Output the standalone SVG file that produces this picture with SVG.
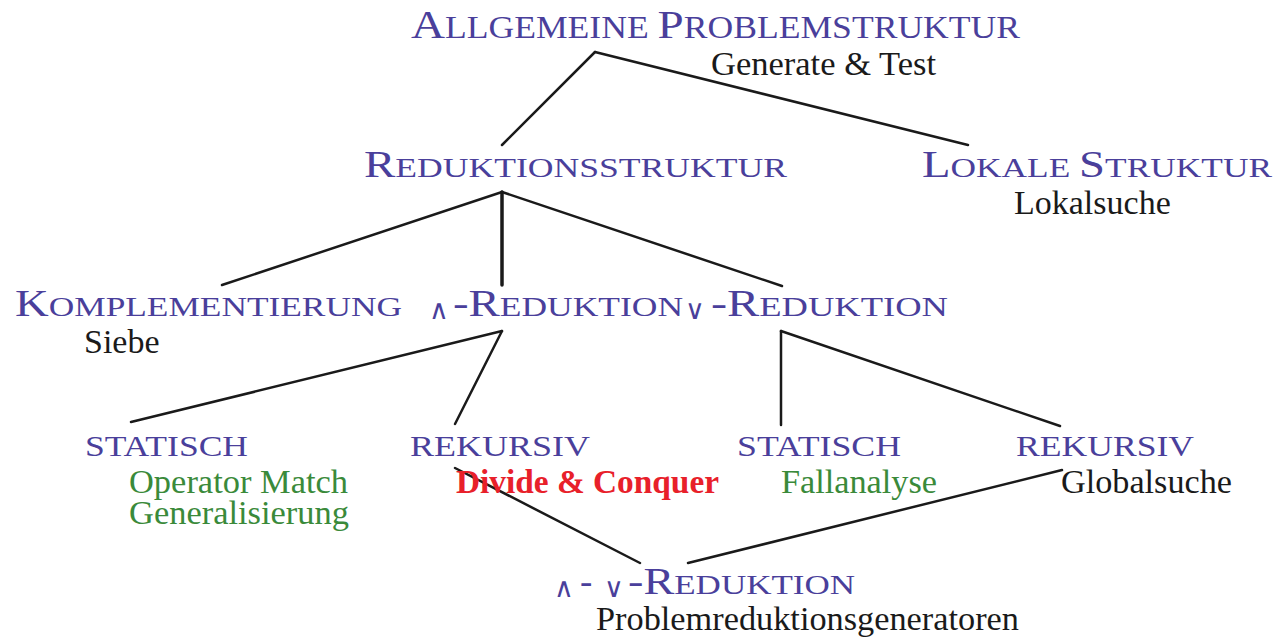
<svg xmlns="http://www.w3.org/2000/svg" width="1279" height="640" viewBox="0 0 1279 640">
<style>
text{font-family:"Liberation Serif","Times New Roman",serif;}
.h{fill:#4a3f9b;}
.b{font-size:37px;}
.s{font-size:28px;}
.sub{font-size:34px;fill:#1a1a1a;}
.g{font-size:34px;fill:#3a8a3a;}
.r{font-size:34px;fill:#e8202a;font-weight:bold;}
.op{font-family:"DejaVu Sans",sans-serif;font-size:27px;fill:#4a3f9b;}
.sc{font-size:30px;fill:#4a3f9b;}
.c line{stroke:#1a1a1a;stroke-width:2.5;stroke-linecap:round;}
</style>
<rect width="1279" height="640" fill="#fff"/>
<g class="c" id="connectors">
<line x1="595" y1="52" x2="502" y2="145"/>
<line x1="595" y1="52" x2="968" y2="145"/>
<line x1="502" y1="192" x2="222" y2="285"/>
<line x1="502" y1="192" x2="502" y2="285" style="stroke-width:3.5"/>
<line x1="502" y1="192" x2="782" y2="286"/>
<line x1="502" y1="331" x2="131" y2="422"/>
<line x1="502" y1="331" x2="455" y2="424"/>
<line x1="781" y1="331" x2="781" y2="425"/>
<line x1="781" y1="331" x2="1060" y2="426"/>
<line x1="455" y1="468" x2="640" y2="563"/>
<line x1="688" y1="563" x2="1062" y2="470"/>
</g>
<g id="allgemeine">
<text class="h" x="411" y="38" textLength="609" lengthAdjust="spacingAndGlyphs"><tspan font-size="41">A</tspan><tspan font-size="31">LLGEMEINE </tspan><tspan font-size="41">P</tspan><tspan font-size="31">ROBLEMSTRUKTUR</tspan></text>
<text class="sub" x="711" y="75" textLength="225" lengthAdjust="spacingAndGlyphs">Generate &amp; Test</text>
</g>
<g id="reduktionsstruktur">
<text class="h" x="364" y="177" textLength="423" lengthAdjust="spacingAndGlyphs"><tspan class="b">R</tspan><tspan class="s">EDUKTIONSSTRUKTUR</tspan></text>
</g>
<g id="lokale">
<text class="h" x="922" y="177" textLength="350" lengthAdjust="spacingAndGlyphs"><tspan class="b">L</tspan><tspan class="s">OKALE </tspan><tspan class="b">S</tspan><tspan class="s">TRUKTUR</tspan></text>
<text class="sub" x="1014" y="214">Lokalsuche</text>
</g>
<g id="komplementierung">
<text class="h" x="15" y="316" textLength="387" lengthAdjust="spacingAndGlyphs"><tspan class="b">K</tspan><tspan class="s">OMPLEMENTIERUNG</tspan></text>
<text class="sub" x="84" y="353">Siebe</text>
</g>
<g id="und-reduktion">
<text class="op" x="429" y="319">∧</text>
<text class="h" x="453" y="316" textLength="230" lengthAdjust="spacingAndGlyphs"><tspan class="b">-R</tspan><tspan class="s">EDUKTION</tspan></text>
</g>
<g id="oder-reduktion">
<text class="op" x="685" y="319">∨</text>
<text class="h" x="711" y="316" textLength="237" lengthAdjust="spacingAndGlyphs"><tspan class="b">-R</tspan><tspan class="s">EDUKTION</tspan></text>
</g>
<g id="statisch-und">
<text class="sc" x="85" y="456" textLength="163" lengthAdjust="spacingAndGlyphs">STATISCH</text>
<text class="g" x="129" y="493" textLength="219" lengthAdjust="spacingAndGlyphs">Operator Match</text>
<text class="g" x="129" y="524" textLength="220" lengthAdjust="spacingAndGlyphs">Generalisierung</text>
</g>
<g id="rekursiv-und">
<text class="sc" x="410" y="456" textLength="180" lengthAdjust="spacingAndGlyphs">REKURSIV</text>
<text class="r" x="456" y="493" textLength="263" lengthAdjust="spacingAndGlyphs">Divide &amp; Conquer</text>
</g>
<g id="statisch-oder">
<text class="sc" x="737" y="456" textLength="164" lengthAdjust="spacingAndGlyphs">STATISCH</text>
<text class="g" x="781" y="493" textLength="156" lengthAdjust="spacingAndGlyphs">Fallanalyse</text>
</g>
<g id="rekursiv-oder">
<text class="sc" x="1016" y="456" textLength="178" lengthAdjust="spacingAndGlyphs">REKURSIV</text>
<text class="sub" x="1061" y="493" textLength="171" lengthAdjust="spacingAndGlyphs">Globalsuche</text>
</g>
<g id="und-oder-reduktion">
<text class="op" x="554" y="597">∧</text>
<text class="h b" x="580" y="594">-</text>
<text class="op" x="604" y="597">∨</text>
<text class="h" x="628" y="594" textLength="227" lengthAdjust="spacingAndGlyphs"><tspan class="b">-R</tspan><tspan class="s">EDUKTION</tspan></text>
<text class="sub" x="596" y="630" textLength="423" lengthAdjust="spacingAndGlyphs">Problemreduktionsgeneratoren</text>
</g>
</svg>
